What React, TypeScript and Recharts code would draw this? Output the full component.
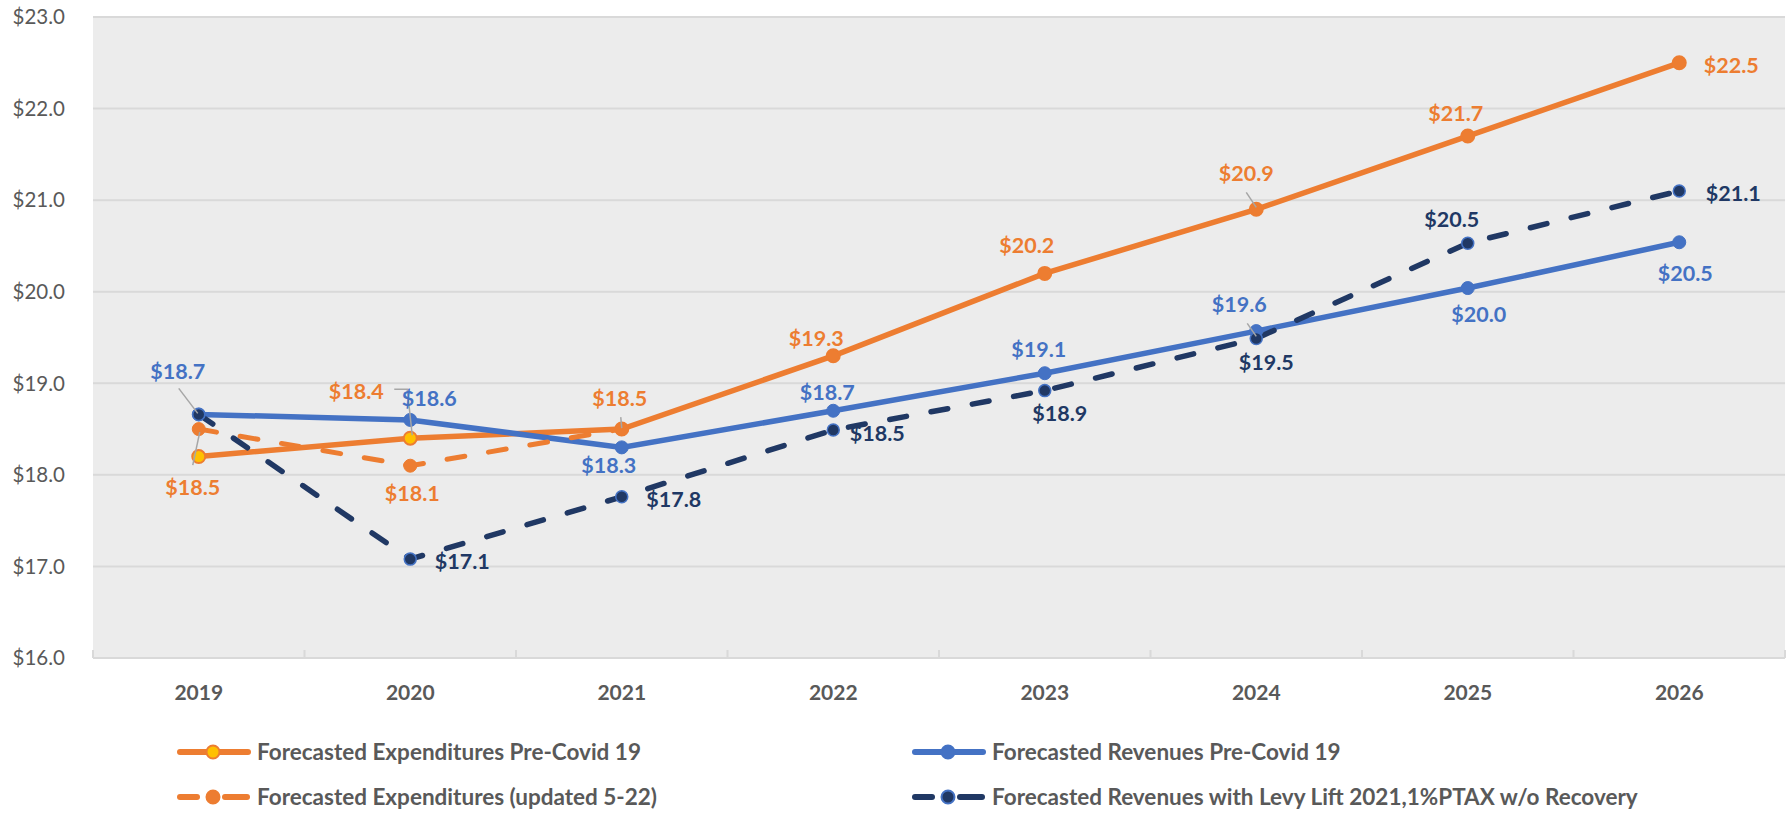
import React from "react";
import { CartesianGrid, LabelList, Legend, Line, LineChart, XAxis, YAxis } from "recharts";

const years = ["2019", "2020", "2021", "2022", "2023", "2024", "2025", "2026"];
const expPreCovid = [18.2, 18.4, 18.5, 19.3, 20.2, 20.9, 21.7, 22.5];
const expUpdated = [18.5, 18.1, 18.5, null, null, null, null, null];
const revPreCovid = [18.66, 18.6, 18.3, 18.7, 19.11, 19.57, 20.04, 20.54];
const revLevyLift = [18.66, 17.08, 17.76, 18.49, 18.92, 19.49, 20.53, 21.1];
const yTicks = [16, 17, 18, 19, 20, 21, 22, 23];

const seriesNames = {
    expPre: "Forecasted Expenditures Pre-Covid 19",
    revPre: "Forecasted Revenues Pre-Covid 19",
    expUpd: "Forecasted Expenditures (updated 5-22)",
    revLevy: "Forecasted Revenues with Levy Lift 2021,1%PTAX w/o Recovery",
};

const ORANGE = "#ed7d31";
const BLUE = "#4472c4";
const NAVY = "#203864";
const YELLOW = "#ffc000";
const TEXT = "#595959";
const GRID = "#d9d9d9";
const FONT = "Lato, 'Open Sans', sans-serif";

const W = 1788;
const H = 829;
const MARGIN = { top: 17, right: 3, left: 0, bottom: 0 };
const Y_AXIS_W = 93;
const X_AXIS_H = 60;
const LEGEND_H = 111;
const PLOT_LEFT = MARGIN.left + Y_AXIS_W;
const PLOT_BOTTOM = H - MARGIN.bottom - LEGEND_H - X_AXIS_H;
const BAND = (W - MARGIN.left - MARGIN.right - Y_AXIS_W) / years.length;

// label offsets from the point (label centre), null = no label
type Off = [number, number] | null;
const expPreLabels: Off[] = [null, [-54, -47], null, [-17, -18], [-18, -28], [-10, -36], [-12, -23], [52, 2]];
const expUpdLabels: Off[] = [[-6, 58], [2, 27], [-2, -31], null, null, null, null, null];
const revPreLabels: Off[] = [[-21, -43], [19, -22], [-13, 18], [-6, -19], [-6, -24], [-17, -27], [11, 26], [6, 31]];
const revLevyLabels: Off[] = [null, [52, 2], [52, 2], [44, 3], [15, 22], [10, 24], [-16, -24], [54, 2]];

// leader lines, relative to the point
type Leaders = Record<number, [number, number][]>;
const expPreLeaders: Leaders = { 1: [[-16, -49], [-3, -49], [2, -3]], 5: [[-10, -17], [0, -2]] };
const expUpdLeaders: Leaders = { 0: [[-6, 36], [1, 3]], 2: [[-1, -12], [0, -1]] };
const revPreLeaders: Leaders = { 0: [[-20, -26], [-1, -1]] };
const revLevyLeaders: Leaders = { 5: [[-9, -15], [0, -2]] };

const rows = years.map((year, i) => ({
    idx: i,
    year,
    expPre: expPreCovid[i],
    expUpd: expUpdated[i],
    revPre: revPreCovid[i],
    revLevy: revLevyLift[i],
}));

function fmt(v: number): string {
    return `$${(Math.round(v * 10) / 10).toFixed(1)}`;
}

function makeLabel(color: string, offsets: Off[], leaders: Leaders) {
    return (props: any) => {
        const x = props.x ?? props.viewBox?.x;
        const y = props.y ?? props.viewBox?.y;
        const { value } = props;
        if (value == null || x == null || y == null) return null;
        const index =
            props.index ?? Math.round((x - PLOT_LEFT) / BAND - 0.5);
        const off = offsets[index];
        if (!off) return null;
        const lead = leaders[index];
        return (
            <g>
                {lead && (
                    <polyline
                        points={lead.map(([dx, dy]) => `${x + dx},${y + dy}`).join(" ")}
                        fill="none"
                        stroke="#a6a6a6"
                        strokeWidth={1.5}
                    />
                )}
                <text
                    x={x + off[0]}
                    y={y + off[1]}
                    textAnchor="middle"
                    dominantBaseline="central"
                    fill={color}
                    fontFamily={FONT}
                    fontWeight={700}
                    fontSize={21.5}
                >
                    {fmt(value)}
                </text>
            </g>
        );
    };
}

function makeDot(fill: string, stroke: string, r: number, sw: number, firstFill?: string) {
    return (p: any) => {
        if (p.cx == null || p.cy == null || p.value == null) return <g key={`e-${p.index}`} />;
        const f = firstFill && p.index < 2 ? firstFill : fill;
        return <circle key={`d-${p.index}`} cx={p.cx} cy={p.cy} r={r} fill={f} stroke={stroke} strokeWidth={sw} />;
    };
}

function XTick(props: any) {
    const { x, y, payload, index } = props;
    const last = index === years.length - 1;
    return (
        <g>
            <line x1={x - BAND / 2} x2={x - BAND / 2} y1={PLOT_BOTTOM} y2={PLOT_BOTTOM - 8} stroke={GRID} strokeWidth={2} />
            {last && (
                <line x1={x + BAND / 2} x2={x + BAND / 2} y1={PLOT_BOTTOM} y2={PLOT_BOTTOM - 8} stroke={GRID} strokeWidth={2} />
            )}
            <text
                x={x}
                y={y + 33}
                textAnchor="middle"
                dominantBaseline="central"
                fill={TEXT}
                fontFamily={FONT}
                fontWeight={700}
                fontSize={21}
            >
                {years[payload.value]}
            </text>
        </g>
    );
}

function LegendIcon({ color, dashed, markerFill, markerStroke }: { color: string; dashed: boolean; markerFill: string; markerStroke: string }) {
    return (
        <svg width={76} height={20} style={{ display: "block" }}>
            {dashed ? (
                <>
                    <line x1={3} x2={20} y1={10} y2={10} stroke={color} strokeWidth={6} strokeLinecap="round" />
                    <line x1={48} x2={70} y1={10} y2={10} stroke={color} strokeWidth={6} strokeLinecap="round" />
                </>
            ) : (
                <line x1={3} x2={71} y1={10} y2={10} stroke={color} strokeWidth={6} strokeLinecap="round" />
            )}
            <circle cx={36} cy={10} r={6.5} fill={markerFill} stroke={markerStroke} strokeWidth={2} />
        </svg>
    );
}

const legendItems = [
    { name: seriesNames.expPre, color: ORANGE, dashed: false, fill: YELLOW, stroke: ORANGE, left: 177, top: 34 },
    { name: seriesNames.revPre, color: BLUE, dashed: false, fill: BLUE, stroke: BLUE, left: 912, top: 34 },
    { name: seriesNames.expUpd, color: ORANGE, dashed: true, fill: ORANGE, stroke: ORANGE, left: 177, top: 79 },
    { name: seriesNames.revLevy, color: NAVY, dashed: true, fill: NAVY, stroke: BLUE, left: 912, top: 79 },
];

function ChartLegend() {
    return (
        <div style={{ position: "relative", width: W, height: LEGEND_H }}>
            {legendItems.map((it) => (
                <div
                    key={it.name}
                    style={{
                        position: "absolute",
                        left: it.left,
                        top: it.top - 12,
                        height: 24,
                        display: "flex",
                        alignItems: "center",
                        whiteSpace: "nowrap",
                    }}
                >
                    <LegendIcon color={it.color} dashed={it.dashed} markerFill={it.fill} markerStroke={it.stroke} />
                    <span
                        style={{
                            marginLeft: 4,
                            fontFamily: FONT,
                            fontWeight: 700,
                            fontSize: 22.5,
                            color: TEXT,
                            lineHeight: "24px",
                        }}
                    >
                        {it.name}
                    </span>
                </div>
            ))}
        </div>
    );
}

export default function App() {
    return (
        <div style={{ position: "absolute", left: 0, top: 0, width: W, height: H, background: "#fff" }}>
            <LineChart width={W} height={H} data={rows} margin={MARGIN}>
                <CartesianGrid vertical={false} fill="#ececec" stroke={GRID} strokeWidth={2} />
                <XAxis
                    dataKey="idx"
                    type="number"
                    domain={[-0.5, years.length - 0.5]}
                    ticks={years.map((_, i) => i)}
                    interval={0}
                    height={X_AXIS_H}
                    tickSize={0}
                    tickMargin={0}
                    tickLine={false}
                    axisLine={{ stroke: GRID, strokeWidth: 2 }}
                    tick={<XTick />}
                />
                <YAxis
                    width={Y_AXIS_W}
                    domain={[16, 23]}
                    ticks={yTicks}
                    interval={0}
                    tickSize={0}
                    tickMargin={28}
                    tickLine={false}
                    axisLine={false}
                    tickFormatter={(v: number) => `$${v.toFixed(1)}`}
                    tick={{ fill: TEXT, fontSize: 20.5, fontFamily: FONT }}
                />
                <Legend verticalAlign="bottom" height={LEGEND_H} content={() => <ChartLegend />} />
                <Line
                    dataKey="expPre"
                    name={seriesNames.expPre}
                    stroke={ORANGE}
                    strokeWidth={5.5}
                    dot={makeDot(ORANGE, ORANGE, 6.5, 2, YELLOW)}
                    activeDot={false}
                    isAnimationActive={false}
                >
                    <LabelList dataKey="expPre" content={makeLabel(ORANGE, expPreLabels, expPreLeaders)} />
                </Line>
                <Line
                    dataKey="revPre"
                    name={seriesNames.revPre}
                    stroke={BLUE}
                    strokeWidth={5.5}
                    dot={makeDot(BLUE, BLUE, 6.5, 1)}
                    activeDot={false}
                    isAnimationActive={false}
                >
                    <LabelList dataKey="revPre" content={makeLabel(BLUE, revPreLabels, revPreLeaders)} />
                </Line>
                <Line
                    dataKey="expUpd"
                    name={seriesNames.expUpd}
                    stroke={ORANGE}
                    strokeWidth={5}
                    strokeDasharray="18 24"
                    strokeLinecap="round"
                    dot={makeDot(ORANGE, ORANGE, 6.5, 1)}
                    activeDot={false}
                    isAnimationActive={false}
                >
                    <LabelList dataKey="expUpd" content={makeLabel(ORANGE, expUpdLabels, expUpdLeaders)} />
                </Line>
                <Line
                    dataKey="revLevy"
                    name={seriesNames.revLevy}
                    stroke={NAVY}
                    strokeWidth={5.5}
                    strokeDasharray="17 25"
                    strokeLinecap="round"
                    dot={makeDot(NAVY, BLUE, 6, 1.5)}
                    activeDot={false}
                    isAnimationActive={false}
                >
                    <LabelList dataKey="revLevy" content={makeLabel(NAVY, revLevyLabels, revLevyLeaders)} />
                </Line>
            </LineChart>
        </div>
    );
}
